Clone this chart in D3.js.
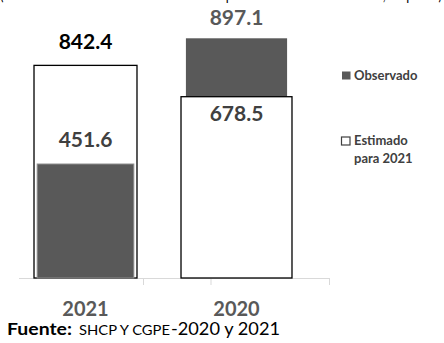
<!DOCTYPE html>
<html>
<head>
<meta charset="utf-8">
<script src="https://cdn.jsdelivr.net/npm/d3@7"></script>
<style>
  html, body { margin: 0; padding: 0; background: #fff; }
  svg { display: block; font-family: Lato, "Open Sans", sans-serif; }
</style>
</head>
<body>
<svg id="chart" width="444" height="343"></svg>
<script>
// Data
const categories = ["2021", "2020"];
const observado = [451.6, 897.1];
const estimado = [842.4, 678.5];
const legendLabels = [["Observado"], ["Estimado", "para 2021"]];
const headerText = "(Monto estimado del balance del sector público contra lo observado, de pesos)";
const sourceParts = ["Fuente:", "SHCP Y CGPE", "-2020 y 2021"];

// Layout
const baseY = 278;
const dark = "#595959";

const svg = d3.select("#chart");

// Each year sits on its own value axis (primary for the first, secondary for the second)
const yPrimary = d3.scaleLinear().domain([0, 1000]).range([baseY, 25.6]);
const ySecondary = d3.scaleLinear().domain([0, 1000]).range([baseY, 10.8]);
const yFor = i => (i === 0 ? yPrimary : ySecondary);

const x = d3.scaleBand().domain(categories).range([10, 312]).padding(0);
const bw = x.bandwidth();
const estFrac = [0.682, 0.735];
const obsFrac = [0.64, 0.67];

// Header line (runs above the visible area)
svg.append("text")
  .attr("x", 0).attr("y", -0.5)
  .attr("textLength", 442).attr("lengthAdjust", "spacingAndGlyphs")
  .attr("font-size", 17).attr("fill", "#000")
  .text(headerText);

// Category axis
const axisG = svg.append("g");
axisG.append("line")
  .attr("x1", 19).attr("x2", 330)
  .attr("y1", baseY + 0.5).attr("y2", baseY + 0.5)
  .attr("stroke", "#d9d9d9").attr("stroke-width", 1);
const tickXs = [143.5, 211, 329.5];
axisG.selectAll("line.tick").data(tickXs).join("line")
  .attr("class", "tick")
  .attr("x1", d => d).attr("x2", d => d)
  .attr("y1", baseY + 0.5).attr("y2", baseY + 7)
  .attr("stroke", "#d9d9d9").attr("stroke-width", 1);

// Bars: the taller one goes behind, the shorter one in front
const bars = svg.append("g");
categories.forEach((c, i) => {
  const y = yFor(i);
  const cx = x(c) + bw / 2;
  const items = [
    { key: "obs", v: observado[i], w: bw * obsFrac[i] },
    { key: "est", v: estimado[i], w: bw * estFrac[i] }
  ].sort((a, b) => b.v - a.v);
  items.forEach(it => {
    const r = bars.append("rect")
      .attr("x", cx - it.w / 2)
      .attr("y", y(it.v))
      .attr("width", it.w)
      .attr("height", baseY - y(it.v));
    if (it.key === "obs") {
      r.attr("fill", dark).attr("stroke", i === 0 ? "#8c8c8c" : "none").attr("stroke-width", 1);
    } else {
      r.attr("fill", "#fff").attr("stroke", "#000").attr("stroke-width", 1.3);
    }
  });
});

// Value labels
const labels = svg.append("g")
  .attr("font-weight", 700).attr("font-size", 21).attr("text-anchor", "middle");
const fmt = d3.format(".1f");
categories.forEach((c, i) => {
  const y = yFor(i);
  const cx = x(c) + bw / 2;
  if (i === 0) {
    labels.append("text").attr("x", cx).attr("y", y(estimado[i]) - 16)
      .attr("fill", "#000").text(fmt(estimado[i]));
    labels.append("text").attr("x", cx).attr("y", y(observado[i]) - 17)
      .attr("fill", "#404040").text(fmt(observado[i]));
  } else {
    labels.append("text").attr("x", cx).attr("y", y(observado[i]) - 13)
      .attr("fill", dark).text(fmt(observado[i]));
    labels.append("text").attr("x", cx).attr("y", y(estimado[i]) + 24.5)
      .attr("fill", "#404040").text(fmt(estimado[i]));
  }
});

// Category labels
svg.append("g").selectAll("text").data(categories).join("text")
  .attr("x", d => x(d) + bw / 2)
  .attr("y", 316)
  .attr("text-anchor", "middle")
  .attr("font-weight", 700).attr("font-size", 20)
  .attr("fill", dark)
  .text(d => d);

// Legend
const legend = svg.append("g").attr("font-size", 13).attr("font-weight", 700).attr("fill", "#404040");
const legendRows = [71, 136.5];
legendLabels.forEach((lines, i) => {
  const top = legendRows[i];
  legend.append("rect")
    .attr("x", i === 0 ? 342 : 341.5).attr("y", top + 0.5)
    .attr("width", 8.5).attr("height", 8)
    .attr("fill", i === 0 ? dark : "#fff")
    .attr("stroke", i === 0 ? "none" : "#404040").attr("stroke-width", 1.2);
  lines.forEach((t, j) => {
    legend.append("text").attr("x", 354).attr("y", top + 8.5 + j * 17.5).text(t);
  });
});

// Source note
const src = svg.append("g").attr("fill", "#000");
src.append("text").attr("x", 7).attr("y", 335)
  .attr("font-weight", 700).attr("font-size", 17.5)
  .attr("textLength", 65).attr("lengthAdjust", "spacingAndGlyphs")
  .text(sourceParts[0]);
src.append("text").attr("x", 79).attr("y", 335)
  .attr("font-size", 13)
  .attr("textLength", 91).attr("lengthAdjust", "spacingAndGlyphs")
  .text(sourceParts[1]);
src.append("text").attr("x", 171).attr("y", 335)
  .attr("font-size", 17.5)
  .attr("textLength", 109).attr("lengthAdjust", "spacingAndGlyphs")
  .text(sourceParts[2]);
</script>
</body>
</html>
